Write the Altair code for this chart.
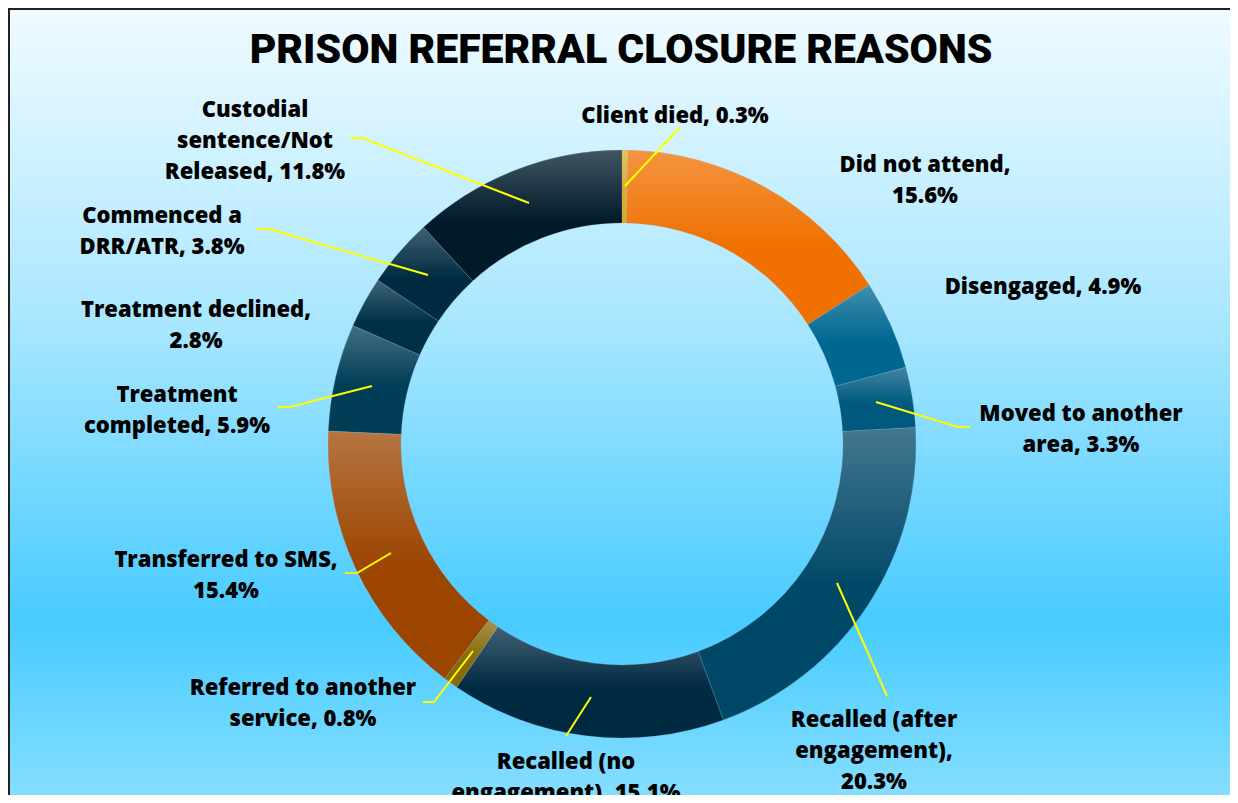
import altair as alt
import pandas as pd

# ---- data ----
categories = [
    "Client died", "Did not attend", "Disengaged", "Moved to another area",
    "Recalled (after engagement)", "Recalled (no engagement)",
    "Referred to another service", "Transferred to SMS", "Treatment completed",
    "Treatment declined", "Commenced a DRR/ATR", "Custodial sentence/Not Released",
]
values = [0.3, 15.6, 4.9, 3.3, 20.3, 15.1, 0.8, 15.4, 5.9, 2.8, 3.8, 11.8]
label_templates = [
    "Client died, {v}%",
    "Did not attend,\n{v}%",
    "Disengaged, {v}%",
    "Moved to another\narea, {v}%",
    "Recalled (after\nengagement),\n{v}%",
    "Recalled (no\nengagement), {v}%",
    "Referred to another\nservice, {v}%",
    "Transferred to SMS,\n{v}%",
    "Treatment\ncompleted, {v}%",
    "Treatment declined,\n{v}%",
    "Commenced a\nDRR/ATR, {v}%",
    "Custodial\nsentence/Not\nReleased, {v}%",
]

# ---- styles / layout ----
colors = ["#d8ae2c", "#f07000", "#006890", "#005a80", "#004868", "#002a42",
          "#8a6a08", "#9c4500", "#003e58", "#003048", "#002a40", "#001a2a"]
OFF = 8
W, H = 1222, 787
CX, CY = 622 - OFF, 444 - OFF
R_OUT, R_IN = 294, 221

label_pos = [(675, 123), (925, 172), (1043, 294), (1081, 421), (874, 727),
             (566, 769), (303, 695), (226, 567), (177, 402), (196, 317),
             (162, 223), (255, 117)]
leaders = {
    0: [(625, 186), (680, 127)],
    3: [(876, 402), (958, 427), (970, 427)],
    4: [(837, 583), (887, 696)],
    5: [(591, 697), (566, 736)],
    6: [(473, 651), (434, 702), (423, 702)],
    7: [(391, 553), (357, 573), (345, 573)],
    8: [(372, 386), (290, 407), (278, 407)],
    10: [(428, 275), (269, 229), (257, 229)],
    11: [(529, 203), (362, 138), (350, 138)],
}

df = pd.DataFrame({"category": categories, "value": values,
                   "idx": list(range(len(categories)))})

lab_df = pd.DataFrame({
    "label": [t.format(v=v) for t, v in zip(label_templates, values)],
    "x": [p[0] - OFF for p in label_pos],
    "y": [p[1] - OFF for p in label_pos],
})

lead_rows = []
for k, pts in leaders.items():
    for j, (x, y) in enumerate(pts):
        lead_rows.append({"cat": categories[k], "o": j, "x": x - OFF, "y": y - OFF})
lead_df = pd.DataFrame(lead_rows)

bg = alt.Chart(alt.Data(values=[{"a": 1}])).mark_rect(
    fill=alt.Gradient(gradient="linear", x1=0, y1=0, x2=0, y2=1, stops=[
        alt.GradientStop(color="#f0fbff", offset=0),
        alt.GradientStop(color="#a6e6ff", offset=0.4),
        alt.GradientStop(color="#48cbff", offset=0.76),
        alt.GradientStop(color="#8ce0ff", offset=1),
    ]),
    stroke="#222222", strokeWidth=2,
).encode(x=alt.value(1), x2=alt.value(W + 10), y=alt.value(1), y2=alt.value(H + 20))

arcs = alt.Chart(df).mark_arc(radius=R_OUT, radius2=R_IN, stroke="#9ab8c8",
                              strokeWidth=0.4, strokeOpacity=0.5).encode(
    theta=alt.Theta("value:Q", stack=True),
    order=alt.Order("idx:Q"),
    color=alt.Color("category:N", scale=alt.Scale(domain=categories, range=colors),
                    legend=None),
    x=alt.value(CX), y=alt.value(CY),
)

shade = alt.Chart(df).mark_arc(
    radius=R_OUT, radius2=R_IN,
    fill=alt.Gradient(gradient="linear", x1=0, y1=0, x2=0, y2=1, stops=[
        alt.GradientStop(color="rgba(255,255,255,0.26)", offset=0),
        alt.GradientStop(color="rgba(255,255,255,0)", offset=0.55),
        alt.GradientStop(color="rgba(255,255,255,0)", offset=1),
    ]),
).encode(
    theta=alt.Theta("value:Q", stack=True),
    order=alt.Order("idx:Q"),
    detail="category:N",
    x=alt.value(CX), y=alt.value(CY),
)

lines = alt.Chart(lead_df).mark_line(color="#ffff00", strokeWidth=2).encode(
    x=alt.X("x:Q", scale=None), y=alt.Y("y:Q", scale=None),
    detail="cat:N", order="o:Q",
)

labels = alt.Chart(lab_df).mark_text(
    font="Open Sans", fontWeight=800, fontSize=22, color="#000000",
    align="center", baseline="alphabetic", lineBreak="\n", lineHeight=31,
).encode(x=alt.X("x:Q", scale=None), y=alt.Y("y:Q", scale=None), text="label:N")

title = alt.Chart(alt.Data(values=[{"t": "PRISON REFERRAL CLOSURE REASONS"}])).mark_text(
    font="Roboto", fontWeight=900, fontSize=41, color="#000000",
    align="center", baseline="alphabetic",
).encode(x=alt.value(621 - OFF), y=alt.value(63 - OFF), text="t:N")

chart = alt.layer(bg, arcs, shade, lines, labels, title).properties(
    width=W, height=H, padding=0, autosize=alt.AutoSizeParams(type="none"),
).configure_view(stroke=None)

chart.save("out.html", embed_options={"renderer": "svg", "actions": False})
